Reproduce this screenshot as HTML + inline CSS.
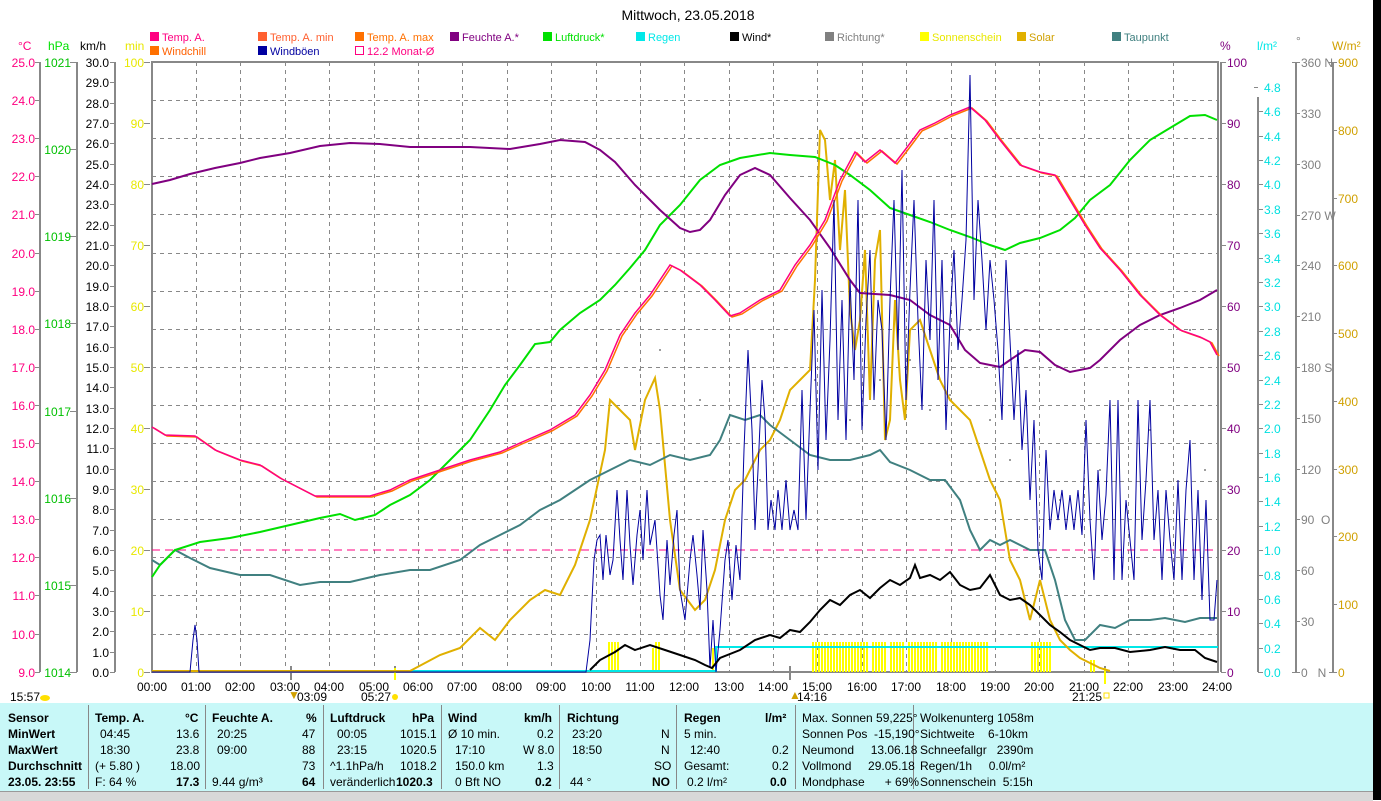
<!DOCTYPE html>
<html><head><meta charset="utf-8"><style>
body{margin:0;width:1381px;height:800px;overflow:hidden;background:#fff;font-family:"Liberation Sans",sans-serif;position:relative}
svg{position:absolute;left:0;top:0}
.tb{position:absolute;left:0;top:703px;width:1373px;height:88px;background:#c8f8f8}
.tb div{position:absolute;font-size:12px;white-space:nowrap;color:#000}
.b{font-weight:bold}
.sep{position:absolute;top:2px;width:1px;height:84px;background:#888}
.bot{position:absolute;left:0;top:791px;width:1373px;height:9px;background:#d8d8d8;border-top:1px solid #999}
.blk{position:absolute;left:1373px;top:0;width:8px;height:800px;background:#000}
</style></head><body>
<svg width="1381" height="703" font-family="Liberation Sans, sans-serif" font-size="12">
<text x="688" y="20" text-anchor="middle" font-size="14">Mittwoch, 23.05.2018</text>
<!-- legend -->
<g font-size="11">
<rect x="150" y="32" width="9" height="9" fill="#ff0080"/><text x="162" y="41" fill="#ff0080">Temp. A.</text>
<rect x="258" y="32" width="9" height="9" fill="#ff6030"/><text x="270" y="41" fill="#ff6030">Temp. A. min</text>
<rect x="355" y="32" width="9" height="9" fill="#ff7000"/><text x="367" y="41" fill="#ff7000">Temp. A. max</text>
<rect x="450" y="32" width="9" height="9" fill="#800080"/><text x="462" y="41" fill="#800080">Feuchte A.*</text>
<rect x="543" y="32" width="9" height="9" fill="#00e000"/><text x="555" y="41" fill="#00e000">Luftdruck*</text>
<rect x="636" y="32" width="9" height="9" fill="#00e8e8"/><text x="648" y="41" fill="#00e8e8">Regen</text>
<rect x="730" y="32" width="9" height="9" fill="#000"/><text x="742" y="41">Wind*</text>
<rect x="825" y="32" width="9" height="9" fill="#808080"/><text x="837" y="41" fill="#808080">Richtung*</text>
<rect x="920" y="32" width="9" height="9" fill="#ffff00"/><text x="932" y="41" fill="#e8e800">Sonnenschein</text>
<rect x="1017" y="32" width="9" height="9" fill="#e0b000"/><text x="1029" y="41" fill="#d0a000">Solar</text>
<rect x="1112" y="32" width="9" height="9" fill="#408080"/><text x="1124" y="41" fill="#408080">Taupunkt</text>
<rect x="150" y="46" width="9" height="9" fill="#ff7000"/><text x="162" y="55" fill="#ff6000">Windchill</text>
<rect x="258" y="46" width="9" height="9" fill="#0000a0"/><text x="270" y="55" fill="#0000a0">Windböen</text>
<rect x="355.5" y="46.5" width="8" height="8" fill="none" stroke="#ff0080"/><text x="367" y="55" fill="#ff0080">12.2 Monat-Ø</text>
</g>
<!-- unit headers -->
<text x="18" y="50" fill="#ff0080">°C</text><text x="48" y="50" fill="#00e000">hPa</text><text x="80" y="50">km/h</text><text x="125" y="50" fill="#e8e800">min</text>
<text x="1220" y="50" fill="#800080">%</text><text x="1257" y="50" fill="#00e8e8">l/m²</text><text x="1296" y="45" fill="#808080">°</text><text x="1332" y="50" fill="#d0a000">W/m²</text>
<!-- grid -->
<g stroke="#888" stroke-dasharray="4,4" stroke-width="1">
<path d="M152 100.5H1218M152 138.5H1218M152 176.5H1218M152 214.5H1218M152 253.5H1218M152 291.5H1218M152 329.5H1218M152 367.5H1218M152 405.5H1218M152 443.5H1218M152 481.5H1218M152 519.5H1218M152 557.5H1218M152 595.5H1218M152 634.5H1218"/>
<path d="M196.5 62V672M240.5 62V672M285.5 62V672M329.5 62V672M374.5 62V672M418.5 62V672M462.5 62V672M507.5 62V672M551.5 62V672M596.5 62V672M640.5 62V672M684.5 62V672M729.5 62V672M773.5 62V672M817.5 62V672M862.5 62V672M906.5 62V672M951.5 62V672M995.5 62V672M1039.5 62V672M1084.5 62V672M1128.5 62V672M1173.5 62V672"/>
</g>
<rect x="152" y="62" width="1066" height="610" fill="none" stroke="#888" stroke-width="2"/>
<!-- axes lines -->
<g stroke="#888" stroke-width="2" fill="none">
<path d="M40 62V672M77 62V672M115 62V672M1221 62V672M1258 97V672M1296 62V672M1333 62V672"/>
</g>
<g stroke="#888" stroke-width="1">
<path d="M35 62.5h5M35 100.5h5M35 138.5h5M35 176.5h5M35 214.5h5M35 253.5h5M35 291.5h5M35 329.5h5M35 367.5h5M35 405.5h5M35 443.5h5M35 481.5h5M35 519.5h5M35 557.5h5M35 595.5h5M35 634.5h5M35 672.5h5"/>
<path d="M70 62.5h7M70 149.5h7M70 236.5h7M70 323.5h7M70 411.5h7M70 498.5h7M70 585.5h7M70 672.5h7"/>
<path d="M110 62.5h5M110 82.5h5M110 103.5h5M110 123.5h5M110 143.5h5M110 164.5h5M110 184.5h5M110 204.5h5M110 225.5h5M110 245.5h5M110 265.5h5M110 286.5h5M110 306.5h5M110 326.5h5M110 347.5h5M110 367.5h5M110 387.5h5M110 408.5h5M110 428.5h5M110 448.5h5M110 469.5h5M110 489.5h5M110 509.5h5M110 530.5h5M110 550.5h5M110 570.5h5M110 591.5h5M110 611.5h5M110 631.5h5M110 652.5h5M110 672.5h5"/>
<path d="M144 62.5h6M144 123.5h6M144 184.5h6M144 245.5h6M144 306.5h6M144 367.5h6M144 428.5h6M144 489.5h6M144 550.5h6M144 611.5h6M144 672.5h6"/>
<path d="M1221 62.5h5M1221 123.5h5M1221 184.5h5M1221 245.5h5M1221 306.5h5M1221 367.5h5M1221 428.5h5M1221 489.5h5M1221 550.5h5M1221 611.5h5M1221 672.5h5"/>
<path d="M1254 87.5h4M1258 111.5h5M1258 136.5h5M1258 160.5h5M1258 184.5h5M1258 209.5h5M1258 233.5h5M1258 258.5h5M1258 282.5h5M1258 306.5h5M1258 331.5h5M1258 355.5h5M1258 380.5h5M1258 404.5h5M1258 428.5h5M1258 453.5h5M1258 477.5h5M1258 501.5h5M1258 526.5h5M1258 550.5h5M1258 575.5h5M1258 599.5h5M1258 623.5h5M1258 648.5h5M1258 672.5h5"/>
<path d="M1292 62.5h8M1296 113.5h4M1296 164.5h4M1296 215.5h4M1296 265.5h4M1296 316.5h4M1296 367.5h4M1296 418.5h4M1296 469.5h4M1296 519.5h4M1296 570.5h4M1296 621.5h4M1292 672.5h8"/>
<path d="M1329 62.5h8M1333 130.5h4M1333 198.5h4M1333 265.5h4M1333 333.5h4M1333 401.5h4M1333 469.5h4M1333 536.5h4M1333 604.5h4M1329 672.5h8"/>
</g>
<!-- left labels -->
<g fill="#ff0080" text-anchor="end">
<text x="35" y="67">25.0</text><text x="35" y="105">24.0</text><text x="35" y="143">23.0</text><text x="35" y="181">22.0</text><text x="35" y="219">21.0</text><text x="35" y="258">20.0</text><text x="35" y="296">19.0</text><text x="35" y="334">18.0</text><text x="35" y="372">17.0</text><text x="35" y="410">16.0</text><text x="35" y="448">15.0</text><text x="35" y="486">14.0</text><text x="35" y="524">13.0</text><text x="35" y="562">12.0</text><text x="35" y="600">11.0</text><text x="35" y="639">10.0</text><text x="35" y="677">9.0</text>
</g>
<g fill="#00c000" text-anchor="end">
<text x="71" y="67">1021</text><text x="71" y="154">1020</text><text x="71" y="241">1019</text><text x="71" y="328">1018</text><text x="71" y="416">1017</text><text x="71" y="503">1016</text><text x="71" y="590">1015</text><text x="71" y="677">1014</text>
</g>
<g text-anchor="end">
<text x="109" y="67">30.0</text><text x="109" y="87">29.0</text><text x="109" y="108">28.0</text><text x="109" y="128">27.0</text><text x="109" y="148">26.0</text><text x="109" y="169">25.0</text><text x="109" y="189">24.0</text><text x="109" y="209">23.0</text><text x="109" y="230">22.0</text><text x="109" y="250">21.0</text><text x="109" y="270">20.0</text><text x="109" y="291">19.0</text><text x="109" y="311">18.0</text><text x="109" y="331">17.0</text><text x="109" y="352">16.0</text><text x="109" y="372">15.0</text><text x="109" y="392">14.0</text><text x="109" y="413">13.0</text><text x="109" y="433">12.0</text><text x="109" y="453">11.0</text><text x="109" y="474">10.0</text><text x="109" y="494">9.0</text><text x="109" y="514">8.0</text><text x="109" y="535">7.0</text><text x="109" y="555">6.0</text><text x="109" y="575">5.0</text><text x="109" y="596">4.0</text><text x="109" y="616">3.0</text><text x="109" y="636">2.0</text><text x="109" y="657">1.0</text><text x="109" y="677">0.0</text>
</g>
<g fill="#e8e800" text-anchor="end">
<text x="144" y="67">100</text><text x="144" y="128">90</text><text x="144" y="189">80</text><text x="144" y="250">70</text><text x="144" y="311">60</text><text x="144" y="372">50</text><text x="144" y="433">40</text><text x="144" y="494">30</text><text x="144" y="555">20</text><text x="144" y="616">10</text><text x="144" y="677">0</text>
</g>
<!-- right labels -->
<g fill="#800080">
<text x="1227" y="67">100</text><text x="1227" y="128">90</text><text x="1227" y="189">80</text><text x="1227" y="250">70</text><text x="1227" y="311">60</text><text x="1227" y="372">50</text><text x="1227" y="433">40</text><text x="1227" y="494">30</text><text x="1227" y="555">20</text><text x="1227" y="616">10</text><text x="1227" y="677">0</text>
</g>
<g fill="#00e0e0">
<text x="1264" y="92">4.8</text><text x="1264" y="116">4.6</text><text x="1264" y="141">4.4</text><text x="1264" y="165">4.2</text><text x="1264" y="189">4.0</text><text x="1264" y="214">3.8</text><text x="1264" y="238">3.6</text><text x="1264" y="263">3.4</text><text x="1264" y="287">3.2</text><text x="1264" y="311">3.0</text><text x="1264" y="336">2.8</text><text x="1264" y="360">2.6</text><text x="1264" y="385">2.4</text><text x="1264" y="409">2.2</text><text x="1264" y="433">2.0</text><text x="1264" y="458">1.8</text><text x="1264" y="482">1.6</text><text x="1264" y="506">1.4</text><text x="1264" y="531">1.2</text><text x="1264" y="555">1.0</text><text x="1264" y="580">0.8</text><text x="1264" y="604">0.6</text><text x="1264" y="628">0.4</text><text x="1264" y="653">0.2</text><text x="1264" y="677">0.0</text>
</g>
<g fill="#808080">
<text x="1301" y="67">360 N</text><text x="1301" y="118">330</text><text x="1301" y="169">300</text><text x="1301" y="220">270 W</text><text x="1301" y="270">240</text><text x="1301" y="321">210</text><text x="1301" y="372">180 S</text><text x="1301" y="423">150</text><text x="1301" y="474">120</text><text x="1301" y="524">90&#160;&#160;O</text><text x="1301" y="575">60</text><text x="1301" y="626">30</text><text x="1301" y="677">0&#160;&#160;&#160;N</text>
</g>
<g fill="#d0a000">
<text x="1338" y="67">900</text><text x="1338" y="135">800</text><text x="1338" y="203">700</text><text x="1338" y="270">600</text><text x="1338" y="338">500</text><text x="1338" y="406">400</text><text x="1338" y="474">300</text><text x="1338" y="541">200</text><text x="1338" y="609">100</text><text x="1338" y="677">0</text>
</g>
<!-- time labels -->
<g text-anchor="middle">
<text x="152" y="691">00:00</text><text x="196" y="691">01:00</text><text x="240" y="691">02:00</text><text x="285" y="691">03:00</text><text x="329" y="691">04:00</text><text x="374" y="691">05:00</text><text x="418" y="691">06:00</text><text x="462" y="691">07:00</text><text x="507" y="691">08:00</text><text x="551" y="691">09:00</text><text x="596" y="691">10:00</text><text x="640" y="691">11:00</text><text x="684" y="691">12:00</text><text x="729" y="691">13:00</text><text x="773" y="691">14:00</text><text x="817" y="691">15:00</text><text x="862" y="691">16:00</text><text x="906" y="691">17:00</text><text x="951" y="691">18:00</text><text x="995" y="691">19:00</text><text x="1039" y="691">20:00</text><text x="1084" y="691">21:00</text><text x="1128" y="691">22:00</text><text x="1173" y="691">23:00</text><text x="1217" y="691">24:00</text>
</g>
<text x="10" y="701">15:57</text><ellipse cx="45" cy="698" rx="5" ry="3" fill="#ffe000"/>
<text x="297" y="701">03:09</text><text x="288" y="699" fill="#d0a000">▼</text>
<text x="361" y="701">05:27</text><circle cx="395" cy="697" r="3" fill="#ffe000"/>
<text x="797" y="701">14:16</text><text x="789" y="699" fill="#d0a000">▲</text>
<text x="1072" y="701">21:25</text><rect x="1104" y="693" width="5" height="5" fill="none" stroke="#ffe000"/>
<path d="M291 666V680M395 666V680M790 666V680M1105 666V682" stroke="#888" stroke-width="2"/>
<path d="M395 668V680M1105 668V684" stroke="#ffff00" stroke-width="2"/>
<!-- monat dashed -->
<path d="M152 550H1218" stroke="#ff0080" stroke-dasharray="8,5" fill="none"/>
<!-- sunshine bars -->
<g stroke="#ffff00" stroke-width="2">
<path d="M609 642V672M612 642V672M615 642V672M618 642V672M653 648V672M656 642V672M659 642V672M713 648V672M813 642V672M816 642V672M819 642V672M822 642V672M825 642V672M828 642V672M831 642V672M834 642V672M837 642V672M840 642V672M843 642V672M846 642V672M849 642V672M852 642V672M855 642V672M858 642V672M861 642V672M864 642V672M867 642V672M873 642V672M876 642V672M879 642V672M882 642V672M885 642V672M891 642V672M894 642V672M897 642V672M900 642V672M903 642V672M909 642V672M912 642V672M915 642V672M918 642V672M921 642V672M924 642V672M927 642V672M930 642V672M933 642V672M936 642V672M942 642V672M945 642V672M948 642V672M951 642V672M954 642V672M957 642V672M960 642V672M963 642V672M966 642V672M969 642V672M972 642V672M975 642V672M978 642V672M981 642V672M984 642V672M987 642V672M1032 642V672M1035 642V672M1038 642V672M1041 642V672M1044 642V672M1047 642V672M1050 642V672M1091 660V672M1094 660V672"/>
</g>
<!-- rain -->
<path d="M152 671H716V647H1218" stroke="#00e8e8" stroke-width="2" fill="none"/>
<!-- richtung dots -->
<g fill="#808080">
<circle cx="640" cy="370" r="1"/><circle cx="660" cy="350" r="1"/><circle cx="700" cy="400" r="1"/><circle cx="760" cy="480" r="1"/><circle cx="790" cy="430" r="1"/><circle cx="815" cy="380" r="1"/><circle cx="850" cy="420" r="1"/><circle cx="880" cy="380" r="1"/><circle cx="910" cy="360" r="1"/><circle cx="930" cy="410" r="1"/><circle cx="950" cy="395" r="1"/><circle cx="970" cy="330" r="1"/><circle cx="990" cy="420" r="1"/><circle cx="1010" cy="460" r="1"/><circle cx="1050" cy="370" r="1"/><circle cx="1060" cy="500" r="1"/><circle cx="1100" cy="470" r="1"/><circle cx="1150" cy="430" r="1"/><circle cx="1190" cy="330" r="1"/><circle cx="1205" cy="470" r="1"/>
</g>
<!-- solar -->
<polyline fill="none" stroke="#e0b000" stroke-width="2" points="152,671 410,671 440,655 460,648 480,628 495,640 510,620 530,600 545,590 560,595 575,565 590,520 605,450 610,400 620,410 630,420 635,450 645,400 655,378 660,410 670,520 680,590 695,610 705,600 715,570 725,520 735,490 745,480 760,450 770,440 780,420 790,390 800,380 810,370 815,280 820,130 825,140 830,200 835,160 840,250 845,190 850,310 855,350 860,320 865,250 870,400 875,260 880,230 885,440 890,420 895,300 900,380 905,420 910,330 920,320 930,350 940,380 950,400 960,410 970,420 980,450 990,480 1000,500 1010,560 1020,580 1030,620 1040,580 1050,620 1060,640 1070,650 1080,658 1100,668 1110,671"/>
<!-- dewpoint -->
<polyline fill="none" stroke="#408080" stroke-width="2" points="152,560 160,565 175,550 190,558 210,568 240,575 270,575 300,585 320,582 350,582 380,575 410,570 430,570 460,560 480,545 500,535 520,525 540,510 560,500 575,490 590,480 610,470 630,460 650,465 670,455 690,460 710,455 720,440 730,415 745,420 760,415 770,425 790,440 810,455 830,460 850,460 870,455 880,450 890,462 910,470 930,480 945,480 960,500 970,530 980,550 990,540 1000,545 1010,540 1030,550 1045,550 1055,580 1065,620 1075,640 1085,640 1100,625 1115,628 1130,620 1150,620 1165,618 1185,622 1200,618 1217,618"/>
<!-- pressure -->
<polyline fill="none" stroke="#00e000" stroke-width="2" points="152,577 160,565 175,550 200,542 230,538 260,532 290,525 320,518 340,514 355,520 375,515 390,505 410,495 430,480 450,460 470,440 490,410 505,385 520,365 535,344 550,342 560,330 580,313 600,300 615,285 630,268 645,250 660,225 680,205 700,180 720,165 740,158 770,153 790,155 815,157 835,165 850,175 870,190 890,208 910,215 930,222 950,230 970,237 990,245 1005,250 1020,243 1040,238 1060,230 1075,218 1090,200 1110,185 1130,160 1150,140 1170,128 1190,116 1205,115 1217,120"/>
<!-- humidity -->
<polyline fill="none" stroke="#800080" stroke-width="2" points="152,184 170,180 190,174 215,168 240,163 260,158 290,153 320,146 350,143 380,144 410,147 470,147 510,149 540,144 560,140 585,142 600,150 615,162 635,185 660,210 680,228 690,232 700,230 710,220 725,195 740,175 755,168 770,175 790,198 810,220 830,248 850,280 860,293 890,295 910,300 930,315 950,325 965,350 980,363 1000,367 1010,360 1025,350 1040,352 1055,365 1070,372 1090,368 1100,360 1120,340 1140,325 1160,315 1180,308 1200,300 1217,290"/>
<!-- temp orange (windchill/max) -->
<polyline fill="none" stroke="#ff7000" stroke-width="1.5" transform="translate(2,1)" points="152,427 165,435 195,436 215,450 240,460 260,465 280,478 315,496 370,496 390,490 410,480 440,470 470,460 500,452 520,443 550,430 575,415 590,395 605,370 620,335 635,313 650,295 670,265 680,270 700,285 715,300 730,316 740,313 760,300 780,290 795,265 810,245 825,220 840,180 855,152 865,162 880,150 895,163 905,150 920,130 935,123 950,115 970,107 985,120 1000,140 1020,165 1040,172 1055,175 1070,200 1085,225 1100,248 1120,270 1140,295 1160,315 1180,330 1200,337 1210,342 1217,355"/>
<polyline fill="none" stroke="#ff0080" stroke-width="1.5" points="152,427 165,435 195,436 215,450 240,460 260,465 280,478 315,496 370,496 390,490 410,480 440,470 470,460 500,452 520,443 550,430 575,415 590,395 605,370 620,335 635,313 650,295 670,265 680,270 700,285 715,300 730,316 740,313 760,300 780,290 795,265 810,245 825,220 840,180 855,152 865,162 880,150 895,163 905,150 920,130 935,123 950,115 970,107 985,120 1000,140 1020,165 1040,172 1055,175 1070,200 1085,225 1100,248 1120,270 1140,295 1160,315 1180,330 1200,337 1210,342 1217,355"/>
<!-- gusts -->
<polyline fill="none" stroke="#0000a0" stroke-width="1" points="152,672 190,672 193,640 195,625 197,640 199,672 586,672 590,640 594,560 597,540 600,535 603,580 606,535 610,575 613,560 617,490 620,540 623,580 627,490 630,545 633,585 637,535 640,510 643,560 647,490 650,545 655,520 660,595 663,620 667,540 670,585 674,535 677,510 680,590 685,620 690,560 693,535 697,575 700,610 703,530 707,590 710,668 713,620 716,672 720,630 725,560 728,540 732,600 736,545 740,580 744,450 748,350 752,430 755,530 758,470 762,380 765,420 768,530 771,500 775,530 778,490 782,530 786,480 790,530 794,510 798,530 802,390 806,520 810,410 814,310 818,470 822,290 826,440 830,340 834,200 838,420 842,300 846,440 850,280 854,380 858,200 862,430 866,320 870,250 874,400 878,300 882,330 886,440 890,300 894,200 898,350 902,170 906,400 910,290 914,200 918,320 922,410 926,260 930,340 934,200 938,380 942,260 946,430 950,320 954,250 958,350 962,300 966,240 970,75 974,300 978,200 982,260 986,330 990,260 994,300 998,350 1002,420 1006,260 1010,340 1014,420 1018,350 1022,450 1026,390 1030,500 1034,420 1038,550 1042,580 1046,450 1050,530 1054,490 1058,520 1062,490 1066,530 1070,495 1074,530 1078,490 1082,535 1086,420 1090,520 1094,580 1098,470 1102,540 1106,495 1110,400 1114,580 1118,400 1122,580 1126,500 1130,540 1134,580 1138,400 1142,540 1146,480 1150,400 1154,540 1158,490 1162,580 1166,490 1170,540 1174,580 1178,480 1182,580 1186,490 1190,440 1194,580 1198,490 1202,600 1206,500 1210,620 1214,620 1217,580"/>
<!-- wind -->
<polyline fill="none" stroke="#000" stroke-width="2" points="590,670 600,660 615,652 625,645 635,650 650,645 665,650 680,655 695,660 705,665 712,668 720,658 740,650 755,640 770,635 780,638 790,630 800,632 810,622 820,610 830,600 840,605 850,595 860,590 870,598 880,588 890,580 900,585 910,578 915,565 920,578 930,575 940,580 950,572 960,585 970,590 980,588 990,575 1000,595 1010,600 1020,598 1030,605 1040,615 1050,625 1060,632 1070,640 1080,645 1090,650 1100,648 1115,648 1130,652 1150,650 1165,647 1180,650 1195,650 1205,658 1217,662"/>
</svg>
<div class="tb">
<div class="sep" style="left:88px"></div><div class="sep" style="left:205px"></div><div class="sep" style="left:323px"></div><div class="sep" style="left:441px"></div><div class="sep" style="left:559px"></div><div class="sep" style="left:676px"></div><div class="sep" style="left:795px"></div><div class="sep" style="left:913px"></div>
<div class="b" style="left:8px;top:8px">Sensor</div><div class="b" style="left:8px;top:24px">MinWert</div><div class="b" style="left:8px;top:40px">MaxWert</div><div class="b" style="left:8px;top:56px">Durchschnitt</div><div class="b" style="left:8px;top:72px">23.05. 23:55</div>
<div class="b" style="left:95px;top:8px">Temp. A.</div><div class="b" style="left:185px;top:8px">°C</div>
<div style="left:100px;top:24px">04:45</div><div style="left:176px;top:24px">13.6</div>
<div style="left:100px;top:40px">18:30</div><div style="left:176px;top:40px">23.8</div>
<div style="left:95px;top:56px">(+ 5.80 )</div><div style="left:170px;top:56px">18.00</div>
<div style="left:95px;top:72px">F: 64 %</div><div class="b" style="left:176px;top:72px">17.3</div>
<div class="b" style="left:212px;top:8px">Feuchte A.</div><div class="b" style="left:306px;top:8px">%</div>
<div style="left:217px;top:24px">20:25</div><div style="left:302px;top:24px">47</div>
<div style="left:217px;top:40px">09:00</div><div style="left:302px;top:40px">88</div>
<div style="left:302px;top:56px">73</div>
<div style="left:212px;top:72px">9.44 g/m³</div><div class="b" style="left:302px;top:72px">64</div>
<div class="b" style="left:330px;top:8px">Luftdruck</div><div class="b" style="left:412px;top:8px">hPa</div>
<div style="left:337px;top:24px">00:05</div><div style="left:400px;top:24px">1015.1</div>
<div style="left:337px;top:40px">23:15</div><div style="left:400px;top:40px">1020.5</div>
<div style="left:330px;top:56px">^1.1hPa/h</div><div style="left:400px;top:56px">1018.2</div>
<div style="left:330px;top:72px">veränderlich</div><div class="b" style="left:396px;top:72px">1020.3</div>
<div class="b" style="left:448px;top:8px">Wind</div><div class="b" style="left:524px;top:8px">km/h</div>
<div style="left:448px;top:24px">Ø 10 min.</div><div style="left:537px;top:24px">0.2</div>
<div style="left:455px;top:40px">17:10</div><div style="left:523px;top:40px">W 8.0</div>
<div style="left:455px;top:56px">150.0 km</div><div style="left:537px;top:56px">1.3</div>
<div style="left:455px;top:72px">0 Bft NO</div><div class="b" style="left:535px;top:72px">0.2</div>
<div class="b" style="left:567px;top:8px">Richtung</div>
<div style="left:572px;top:24px">23:20</div><div style="left:661px;top:24px">N</div>
<div style="left:572px;top:40px">18:50</div><div style="left:661px;top:40px">N</div>
<div style="left:654px;top:56px">SO</div>
<div style="left:570px;top:72px">44 °</div><div class="b" style="left:652px;top:72px">NO</div>
<div class="b" style="left:684px;top:8px">Regen</div><div class="b" style="left:765px;top:8px">l/m²</div>
<div style="left:684px;top:24px">5 min.</div>
<div style="left:690px;top:40px">12:40</div><div style="left:772px;top:40px">0.2</div>
<div style="left:684px;top:56px">Gesamt:</div><div style="left:772px;top:56px">0.2</div>
<div style="left:687px;top:72px">0.2 l/m²</div><div class="b" style="left:770px;top:72px">0.0</div>
<div style="left:802px;top:8px">Max. Sonnen 59,225°</div>
<div style="left:802px;top:24px">Sonnen Pos&#160; -15,190°</div>
<div style="left:802px;top:40px">Neumond&#160;&#160;&#160;&#160; 13.06.18</div>
<div style="left:802px;top:56px">Vollmond&#160;&#160;&#160;&#160; 29.05.18</div>
<div style="left:802px;top:72px">Mondphase&#160;&#160;&#160;&#160;&#160; + 69%</div>
<div style="left:920px;top:8px">Wolkenunterg 1058m</div>
<div style="left:920px;top:24px">Sichtweite&#160;&#160;&#160; 6-10km</div>
<div style="left:920px;top:40px">Schneefallgr&#160;&#160; 2390m</div>
<div style="left:920px;top:56px">Regen/1h&#160;&#160;&#160;&#160; 0.0l/m²</div>
<div style="left:920px;top:72px">Sonnenschein&#160; 5:15h</div>
</div>
<div class="bot"></div>
<div class="blk"></div>
</body></html>
